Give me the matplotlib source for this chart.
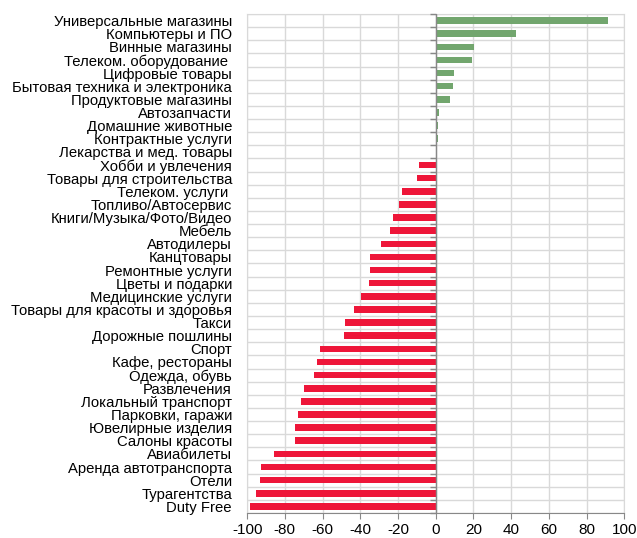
import numpy as np
import matplotlib.pyplot as plt

plt.rcParams['font.family'] = ['Liberation Sans', 'DejaVu Sans']

categories = [
    'Универсальные магазины', 'Компьютеры и ПО', 'Винные магазины',
    'Телеком. оборудование ', 'Цифровые товары', 'Бытовая техника и электроника',
    'Продуктовые магазины', 'Автозапчасти', 'Домашние животные',
    'Контрактные услуги', 'Лекарства и мед. товары', 'Хобби и увлечения',
    'Товары для строительства', 'Телеком. услуги ', 'Топливо/Автосервис',
    'Книги/Музыка/Фото/Видео', 'Мебель', 'Автодилеры', 'Канцтовары',
    'Ремонтные услуги', 'Цветы и подарки', 'Медицинские услуги',
    'Товары для красоты и здоровья', 'Такси', 'Дорожные пошлины', 'Спорт',
    'Кафе, рестораны', 'Одежда, обувь', 'Развлечения', 'Локальный транспорт',
    'Парковки, гаражи', 'Ювелирные изделия', 'Салоны красоты', 'Авиабилеты',
    'Аренда автотранспорта', 'Отели', 'Турагентства', 'Duty Free',
]
values = [
    91.3, 42.5, 20.2, 19.3, 9.8, 9.0, 7.4, 1.8, 1.1, 1.1, 0.0, -8.9,
    -10.1, -17.9, -19.5, -22.7, -24.3, -29.1, -34.8, -34.8, -35.5, -39.4,
    -43.4, -48.2, -48.9, -61.2, -62.8, -64.4, -69.9, -71.5, -73.0, -74.6,
    -74.6, -85.8, -92.4, -93.1, -95.4, -98.6,
]
xticks = [-100, -80, -60, -40, -20, 0, 20, 40, 60, 80, 100]

green = '#72A66E'
red = '#EE1639'

fig = plt.figure(figsize=(6.37, 5.38), dpi=100)
ax = fig.add_axes([0.388, 0.0465, 0.592, 0.9275])

n = len(categories)
y = np.arange(n)
colors = [green if v >= 0 else red for v in values]
ax.barh(y, values, height=0.5, color=colors, zorder=3)

ax.set_xlim(-100, 100)
ax.set_ylim(n - 0.5, -0.5)
ax.set_xticks(xticks)
ax.set_xticklabels([str(t) for t in xticks], fontsize=11)
ax.set_yticks(y)
ax.set_yticklabels(categories, fontsize=10.7)
ax.tick_params(axis='y', length=0, pad=11)
ax.tick_params(axis='x', length=4, color='#888888', pad=3)

# grid
ax.set_yticks(np.arange(n + 1) - 0.5, minor=True)
ax.tick_params(axis='y', which='minor', length=0)
ax.grid(True, axis='x', which='major', color='#D9D9D9', linewidth=1, zorder=0)
ax.grid(True, axis='y', which='minor', color='#D9D9D9', linewidth=1, zorder=0)

for side in ['top', 'right', 'left']:
    ax.spines[side].set_color('#D9D9D9')
ax.spines['bottom'].set_color('#888888')

# zero axis with category tick marks
ax.axvline(0, color='#888888', linewidth=1, zorder=4)
ax.plot(np.full(n + 1, 0), np.arange(n + 1) - 0.5, linestyle='none',
        marker=0, markersize=4, color='#888888', zorder=4, clip_on=False)

fig.savefig('out.png', dpi=100)
